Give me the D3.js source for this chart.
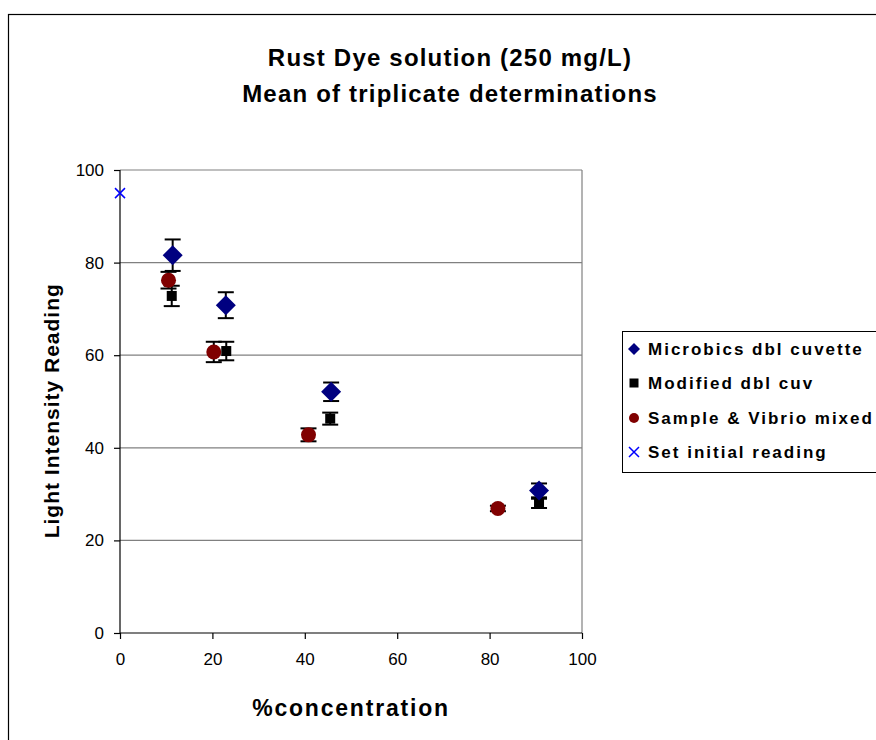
<!DOCTYPE html>
<html>
<head>
<meta charset="utf-8">
<script src="https://cdn.jsdelivr.net/npm/d3@7"></script>
<style>
  html, body { margin: 0; padding: 0; background: #fff; }
  svg { display: block; font-family: "Liberation Sans", Arial, sans-serif; }
</style>
</head>
<body>
<svg id="chart" width="876" height="740"></svg>
<script>
// ---- Data ----
const titleLines = ["Rust Dye solution (250 mg/L)", "Mean of triplicate determinations"];
const xTicks = [0, 20, 40, 60, 80, 100];
const yTicks = [0, 20, 40, 60, 80, 100];

const microbicsX = [11.4, 22.9, 45.7, 90.7];
const microbicsY = [81.6, 70.8, 52.1, 30.8];
const microbicsErr = [3.4, 2.8, 2.0, 1.5];

const modifiedX = [11.2, 23.0, 45.5, 90.7];
const modifiedY = [72.8, 60.9, 46.3, 28.0];
const modifiedErr = [2.2, 2.0, 1.3, 1.0];

const mixedX = [10.5, 20.3, 40.8, 81.8];
const mixedY = [76.2, 60.7, 42.8, 26.9];
const mixedErr = [1.8, 2.2, 1.4, 0.6];

const initialX = [0];
const initialY = [95];

const legendLabels = ["Microbics dbl cuvette", "Modified dbl cuv", "Sample & Vibrio mixed", "Set initial reading"];

// ---- Layout ----
const svg = d3.select("#chart");
const pLeft = 120, pRight = 582, pTop = 170, pBottom = 633;
const x = d3.scaleLinear().domain([0, 100]).range([pLeft, pRight]);
const y = d3.scaleLinear().domain([0, 100]).range([pBottom, pTop]);

// outer border
svg.append("rect").attr("x", 8.5).attr("y", 14.5).attr("width", 880).attr("height", 760)
  .attr("fill", "none").attr("stroke", "#000").attr("stroke-width", 1.2);

// title
svg.selectAll("text.title").data(titleLines).enter().append("text")
  .attr("class", "title")
  .attr("x", 450).attr("y", (d, i) => 66 + i * 36)
  .attr("text-anchor", "middle")
  .attr("font-size", "24px").attr("font-weight", "bold").attr("letter-spacing", "1.2px")
  .text(d => d);

// grid lines
svg.append("g").selectAll("line").data(yTicks.filter(t => t > 0)).enter().append("line")
  .attr("x1", pLeft).attr("x2", pRight)
  .attr("y1", d => y(d)).attr("y2", d => y(d))
  .attr("stroke", "#808080").attr("stroke-width", 1.2);
// right border of plot
svg.append("line").attr("x1", pRight).attr("x2", pRight).attr("y1", pTop).attr("y2", pBottom)
  .attr("stroke", "#808080").attr("stroke-width", 1.2);

// axes
const xAxis = d3.axisBottom(x).tickValues(xTicks).tickSize(6).tickPadding(14).tickFormat(d3.format("d"));
const yAxis = d3.axisLeft(y).tickValues(yTicks).tickSize(6).tickPadding(10).tickFormat(d3.format("d"));
const gx = svg.append("g").attr("transform", `translate(0,${pBottom})`).call(xAxis);
const gy = svg.append("g").attr("transform", `translate(${pLeft},0)`).call(yAxis);
[gx, gy].forEach(g => {
  g.select(".domain").attr("stroke", "#000").attr("stroke-width", 1.2);
  g.selectAll(".tick line").attr("stroke", "#000").attr("stroke-width", 1.2);
  g.selectAll(".tick text").attr("font-size", "17px").attr("fill", "#000")
    .attr("font-family", "Liberation Sans, Arial, sans-serif");
});
gx.select(".domain").attr("d", `M${pLeft},0H${pRight}`);
gy.select(".domain").attr("d", `M0,${pBottom}V${pTop}`);

// axis titles
svg.append("text").attr("x", 351).attr("y", 716).attr("text-anchor", "middle")
  .attr("font-size", "23px").attr("font-weight", "bold").attr("letter-spacing", "1.8px")
  .text("%concentration");
svg.append("text").attr("transform", `translate(59,${y(48)}) rotate(-90)`)
  .attr("text-anchor", "middle")
  .attr("font-size", "21px").attr("font-weight", "bold").attr("letter-spacing", "1px")
  .text("Light Intensity Reading");

// error bars
function errorBars(xs, ys, es) {
  const g = svg.append("g").attr("stroke", "#000").attr("stroke-width", 2);
  xs.forEach((xv, i) => {
    const cx = x(xv), y1 = y(ys[i] + es[i]), y2 = y(ys[i] - es[i]);
    g.append("line").attr("x1", cx).attr("x2", cx).attr("y1", y1).attr("y2", y2);
    g.append("line").attr("x1", cx - 8).attr("x2", cx + 8).attr("y1", y1).attr("y2", y1);
    g.append("line").attr("x1", cx - 8).attr("x2", cx + 8).attr("y1", y2).attr("y2", y2);
  });
}
errorBars(mixedX, mixedY, mixedErr);
errorBars(modifiedX, modifiedY, modifiedErr);
errorBars(microbicsX, microbicsY, microbicsErr);

// markers
const navy = "#000080", dred = "#800000";
function diamond(g, cx, cy, r) {
  g.append("path").attr("d", `M${cx},${cy - r}L${cx + r},${cy}L${cx},${cy + r}L${cx - r},${cy}Z`).attr("fill", navy);
}
function square(g, cx, cy, s) {
  g.append("rect").attr("x", cx - s / 2).attr("y", cy - s / 2).attr("width", s).attr("height", s).attr("fill", "#000");
}
function circle(g, cx, cy, r) {
  g.append("circle").attr("cx", cx).attr("cy", cy).attr("r", r).attr("fill", dred);
}
function cross(g, cx, cy, r) {
  g.append("path").attr("d", `M${cx - r},${cy - r}L${cx + r},${cy + r}M${cx - r},${cy + r}L${cx + r},${cy - r}`)
    .attr("stroke", "#0000FF").attr("stroke-width", 1.5).attr("fill", "none");
}
const gm = svg.append("g");
modifiedX.forEach((v, i) => square(gm, x(v), y(modifiedY[i]), 10));
mixedX.forEach((v, i) => circle(gm, x(v), y(mixedY[i]), 7.5));
microbicsX.forEach((v, i) => diamond(gm, x(v), y(microbicsY[i]), 10));
initialX.forEach((v, i) => cross(gm, x(v), y(initialY[i]), 5));

// legend
const lg = svg.append("g");
lg.append("rect").attr("x", 622.5).attr("y", 331.5).attr("width", 280).attr("height", 141)
  .attr("fill", "#fff").attr("stroke", "#000").attr("stroke-width", 1);
const rowY = [349, 383, 418, 452];
legendLabels.forEach((lab, i) => {
  const mx = 634, my = rowY[i];
  if (i === 0) diamond(lg, mx, my, 6);
  if (i === 1) square(lg, mx, my, 9);
  if (i === 2) circle(lg, mx, my, 5);
  if (i === 3) cross(lg, mx, my, 5);
  lg.append("text").attr("x", 648).attr("y", my + 6)
    .attr("font-size", "17px").attr("font-weight", "bold").attr("letter-spacing", "2px")
    .text(lab);
});
</script>
</body>
</html>
